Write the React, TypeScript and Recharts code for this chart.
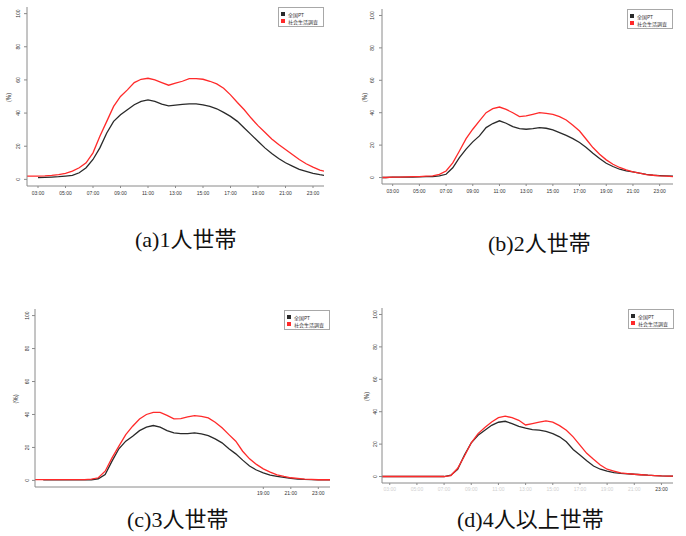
import React from 'react';
import { LineChart, Line, XAxis, YAxis, Legend } from 'recharts';

// time of day in hours (02:00 .. 24:00, 30-minute steps)
const TIMES = [2, 2.5, 3, 3.5, 4, 4.5, 5, 5.5, 6, 6.5, 7, 7.5, 8, 8.5, 9, 9.5, 10, 10.5, 11, 11.5, 12, 12.5, 13, 13.5, 14, 14.5, 15, 15.5, 16, 16.5, 17, 17.5, 18, 18.5, 19, 19.5, 20, 20.5, 21, 21.5, 22, 22.5, 23, 23.5, 24];

const SERIES_NAMES = ['全国PT', '社会生活調査'];

// (a) 1人世帯
const A_PT = [null, null, 1, 1.2, 1.4, 1.6, 2, 2.4, 4, 7, 12, 19, 28, 35, 39, 42, 45, 47, 48, 47, 45.4, 44.4, 44.8, 45.2, 45.6, 45.6, 45, 44, 42.6, 40.4, 38, 35, 31, 27, 23, 19, 15.6, 12.6, 10, 8, 6, 4.8, 3.6, 2.8, 2.2];
const A_SL = [2, 2, 2, 2.1, 2.4, 2.9, 3.6, 5, 7, 10, 16, 26, 35, 44, 50, 54, 58.4, 60.4, 61, 60, 58.4, 56.8, 58, 59.2, 60.8, 60.8, 60.4, 59.2, 57.6, 55, 51, 46.4, 42, 37, 32.4, 28.4, 24.4, 21, 18, 15, 12, 9.4, 7.4, 5.6, 4.6];

// (b) 2人世帯
const B_PT = [0, 0, 0.2, 0.2, 0.3, 0.3, 0.4, 0.5, 0.6, 1, 2, 6, 12.3, 17.5, 22, 25.7, 30.8, 33.3, 35, 33.5, 31.4, 30.2, 29.8, 30.2, 30.8, 30.4, 29.4, 27.7, 26, 24, 21.6, 18.5, 15, 11.7, 8.8, 6.8, 5.1, 4.1, 3.5, 2.7, 2, 1.4, 1.2, 1, 0.8];
const B_SL = [0, 0, 0.2, 0.3, 0.4, 0.5, 0.6, 0.8, 1, 2, 4, 9, 16.4, 24, 29.8, 35, 40, 42.5, 43.5, 42, 40, 37.6, 38, 39, 40, 39.6, 39, 37.6, 35.5, 32.2, 28.7, 23.6, 18.5, 14.4, 10.9, 8.2, 6.2, 4.7, 3.5, 2.7, 1.8, 1.4, 1, 0.8, 0.6];

// (c) 3人世帯
const C_PT = [null, null, 0.3, 0.3, 0.3, 0.3, 0.3, 0.3, 0.3, 0.3, 1, 3.6, 11.7, 19.2, 23.8, 26.8, 30.2, 32.3, 33.3, 32.3, 30.2, 28.8, 28.4, 28.4, 28.8, 28.2, 27.2, 25.2, 22.8, 19.2, 16.1, 12.3, 8.7, 6.3, 4.6, 3.2, 2.4, 1.8, 1.2, 0.8, 0.6, 0.5, 0.4, 0.4, 0.4];
const C_SL = [0.5, 0.5, 0.5, 0.5, 0.5, 0.5, 0.5, 0.5, 0.5, 0.8, 1.6, 5.6, 13.7, 20.8, 27.8, 32.9, 37.3, 40, 41.3, 41.3, 39.5, 37.3, 37.5, 38.5, 39.3, 38.9, 37.9, 35.3, 31.9, 27.8, 23.8, 17.7, 13.1, 9.7, 7, 5, 3.4, 2.4, 1.6, 1.2, 0.8, 0.6, 0.4, 0.4, 0.4];

// (d) 4人以上世帯
const D_PT = [0, 0, 0, 0, 0, 0, 0, 0, 0, 0, 0, 0.8, 4.5, 13.3, 20.8, 25.5, 28.6, 31.6, 33.5, 34.1, 32.7, 31, 29.8, 29, 28.6, 27.8, 26.5, 24.5, 21.4, 16.7, 13.3, 9.8, 6.5, 4.5, 3.3, 2.4, 2, 1.7, 1.4, 1.1, 0.8, 0.6, 0.4, 0.3, 0.2];
const D_SL = [0, 0, 0, 0, 0, 0, 0, 0, 0, 0, 0, 0.6, 5.1, 12.7, 20.8, 26.5, 30.2, 33.7, 36.3, 37.3, 36.3, 34.7, 31.8, 32.7, 33.5, 34.3, 33.5, 31.4, 28.6, 24.5, 19.4, 14.3, 10.6, 7.1, 4.5, 3.3, 2.2, 1.8, 1.4, 1.1, 0.8, 0.6, 0.4, 0.3, 0.2];

const Y_TICKS = [0, 20, 40, 60, 80, 100];
const X_TICKS_FULL = [3, 5, 7, 9, 11, 13, 15, 17, 19, 21, 23];
const X_TICKS_C = [19, 21, 23];
const X_TICK_LABELS: Record<number, string> = { 3: '03:00', 5: '05:00', 7: '07:00', 9: '09:00', 11: '11:00', 13: '13:00', 15: '15:00', 17: '17:00', 19: '19:00', 21: '21:00', 23: '23:00' };

const CAPTIONS = ['(a)1人世帯', '(b)2人世帯', '(c)3人世帯', '(d)4人以上世帯'];

const PT_COLOR = '#2a2a2a';
const SL_COLOR = '#ff2a2a';
const FRAME = '#a8a8a8';
const AXIS = '#8a8a8a';
const SANS = "'Liberation Sans', Arial, sans-serif";
const CJK = "'Noto Sans CJK JP', sans-serif";

type PanelCfg = {
  left: number; top: number; width: number; height: number;
  mTop: number; mRight: number; yW: number; xH: number;
  xDomain: [number, number]; xTicks: number[]; tickDim?: (v: number) => boolean;
  yTickGap: number; xTickGap: number; yLabelX: number;
  legendLeft: number; legendTop: number;
  pt: (number | null)[]; sl: (number | null)[];
  frameTop: boolean;
};

const LegendBox = (props: any) => {
  const items = props.payload || [];
  return (
    <div style={{ boxSizing: 'border-box', width: 46, height: 20, border: `1px solid ${FRAME}`, background: '#fff', padding: '2.5px 0 0 2px' }}>
      {items.map((it: any) => (
        <div key={it.value} style={{ display: 'flex', alignItems: 'center', height: 7 }}>
          <div style={{ width: 4, height: 4, background: it.color, marginRight: 3 }} />
          <span style={{ fontSize: 5, lineHeight: '7px', color: '#333', fontFamily: CJK, whiteSpace: 'nowrap' }}>{it.value}</span>
        </div>
      ))}
    </div>
  );
};

const Panel = ({ cfg }: { cfg: PanelCfg }) => {
  const data = TIMES.map((t, i) => ({ t, pt: cfg.pt[i], sl: cfg.sl[i] }));
  const YTick = (p: any) => (
    <text x={p.x} y={p.y} transform={`rotate(-90 ${p.x} ${p.y})`} textAnchor="middle" fontSize={5} fill="#333" fontFamily={SANS}>
      {p.payload.value}
    </text>
  );
  const XTick = (p: any) => {
    const v = p.payload.value;
    const dim = cfg.tickDim ? cfg.tickDim(v) : false;
    return (
      <text x={p.x} y={p.y} dy="0.71em" textAnchor="middle" fontSize={5} fill={dim ? '#d0d0d0' : '#333'} fontFamily={SANS}>
        {X_TICK_LABELS[v]}
      </text>
    );
  };
  return (
    <div style={{ position: 'absolute', left: cfg.left, top: cfg.top }}>
      <LineChart width={cfg.width} height={cfg.height} data={data} margin={{ top: cfg.mTop, right: cfg.mRight, bottom: 0, left: 0 }}>
        <XAxis dataKey="t" type="number" domain={cfg.xDomain} allowDataOverflow ticks={cfg.xTicks} interval={0}
          height={cfg.xH} tick={<XTick />} tickSize={2} tickMargin={cfg.xTickGap} tickLine={{ stroke: AXIS }} axisLine={{ stroke: AXIS }} />
        <XAxis xAxisId="top" dataKey="t" type="number" orientation="top" domain={cfg.xDomain} allowDataOverflow height={0}
          tick={false} tickLine={false} axisLine={cfg.frameTop ? { stroke: FRAME } : false} />
        <YAxis type="number" domain={[-4, 104]} allowDataOverflow ticks={Y_TICKS} interval={0} width={cfg.yW}
          tick={<YTick />} tickSize={3} tickMargin={cfg.yTickGap} tickLine={{ stroke: AXIS }} axisLine={{ stroke: AXIS }}
          label={{ content: (lp: any) => {
            const vb = lp.viewBox || { x: 0, y: 0, width: 0, height: 0 };
            const x = cfg.yLabelX;
            const y = vb.y + vb.height / 2 + 1;
            return <text x={x} y={y} transform={`rotate(-90 ${x} ${y})`} textAnchor="middle" fontSize={6} fill="#333" fontFamily={CJK}>(%)</text>;
          } }} />
        <YAxis yAxisId="right" orientation="right" type="number" domain={[-4, 104]} allowDataOverflow width={0}
          tick={false} tickLine={false} axisLine={{ stroke: FRAME }} />
        <Legend layout="vertical" align="center" verticalAlign="middle" content={<LegendBox />}
          wrapperStyle={{ left: cfg.legendLeft, top: cfg.legendTop, width: 46, height: 20 }} />
        <Line dataKey="pt" name={SERIES_NAMES[0]} stroke={PT_COLOR} strokeWidth={1.3} dot={false} isAnimationActive={false} connectNulls={false} />
        <Line dataKey="sl" name={SERIES_NAMES[1]} stroke={SL_COLOR} strokeWidth={1.3} dot={false} isAnimationActive={false} connectNulls={false} />
      </LineChart>
    </div>
  );
};

const PANELS: PanelCfg[] = [
  { left: 0, top: 0, width: 340, height: 215, mTop: 7, mRight: 16, yW: 27, xH: 29, xDomain: [2.2, 23.8], xTicks: X_TICKS_FULL,
    yTickGap: 4, xTickGap: 3, yLabelX: 11, legendLeft: 278, legendTop: 7, pt: A_PT, sl: A_SL, frameTop: true },
  { left: 340, top: 0, width: 346, height: 215, mTop: 9, mRight: 13, yW: 42, xH: 31, xDomain: [2.2, 24], xTicks: X_TICKS_FULL,
    yTickGap: 5, xTickGap: 3, yLabelX: 27, legendLeft: 287, legendTop: 9, pt: B_PT, sl: B_SL, frameTop: true },
  { left: 0, top: 300, width: 340, height: 215, mTop: 9, mRight: 10, yW: 35, xH: 28, xDomain: [2.4, 23.85], xTicks: X_TICKS_C,
    yTickGap: 3, xTickGap: 2, yLabelX: 18, legendLeft: 284, legendTop: 10, pt: C_PT, sl: C_SL, frameTop: true },
  { left: 340, top: 300, width: 346, height: 215, mTop: 8, mRight: 13, yW: 42, xH: 32, xDomain: [2.43, 23.85], xTicks: X_TICKS_FULL,
    tickDim: (v: number) => v < 23, yTickGap: 2, xTickGap: 2, yLabelX: 29, legendLeft: 288, legendTop: 9, pt: D_PT, sl: D_SL, frameTop: true },
];

const CAPTION_POS = [[135, 247], [488, 251], [127, 527], [457, 527]];

export default function App() {
  return (
    <div style={{ position: 'absolute', left: 0, top: 0, width: 686, height: 536, background: '#fff', overflow: 'hidden' }}>
      {PANELS.map((p, i) => <Panel key={i} cfg={p} />)}
      <svg width={686} height={536} style={{ position: 'absolute', left: 0, top: 0, pointerEvents: 'none' }}>
        {CAPTIONS.map((c, i) => (
          <text key={c} x={CAPTION_POS[i][0]} y={CAPTION_POS[i][1]} fontSize={22} fill="#111"
            fontFamily="'Liberation Serif', 'Noto Sans CJK JP', serif">{c}</text>
        ))}
      </svg>
    </div>
  );
}
